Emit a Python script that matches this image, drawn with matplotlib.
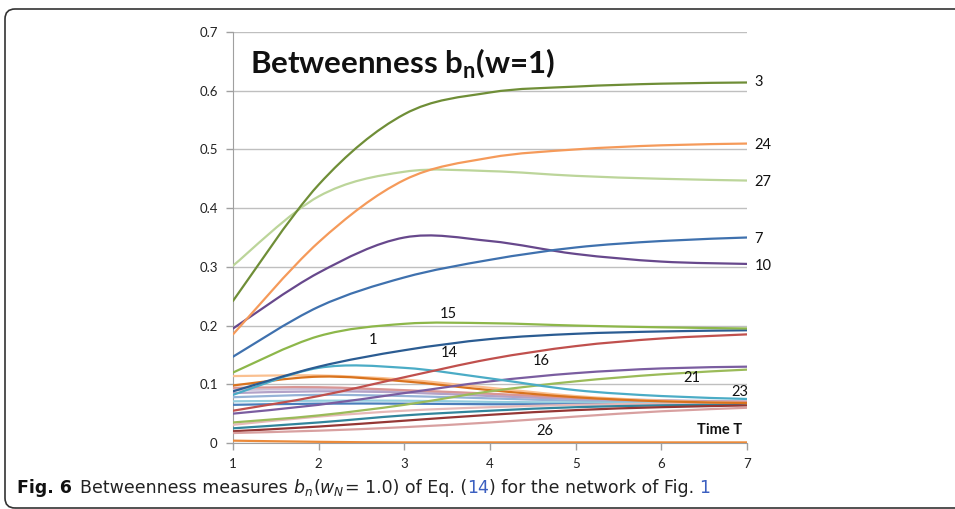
#!/usr/bin/env python3
"""Betweenness b_n(w=1) over time T, smoothed lines as in the Excel original."""
import matplotlib
matplotlib.use("Agg")
import matplotlib.pyplot as plt
from matplotlib.path import Path
from matplotlib.patches import PathPatch, FancyBboxPatch
from matplotlib.transforms import IdentityTransform

T = [1, 2, 3, 4, 5, 6, 7]

# labelled nodes
b3 = [0.242, 0.440, 0.560, 0.597, 0.607, 0.612, 0.614]
b24 = [0.185, 0.342, 0.448, 0.486, 0.500, 0.507, 0.510]
b27 = [0.302, 0.420, 0.462, 0.463, 0.455, 0.450, 0.447]
b7 = [0.147, 0.232, 0.282, 0.312, 0.333, 0.344, 0.350]
b10 = [0.195, 0.290, 0.350, 0.344, 0.322, 0.309, 0.305]
b15 = [0.120, 0.182, 0.203, 0.204, 0.200, 0.197, 0.195]
b1 = [0.088, 0.130, 0.158, 0.177, 0.186, 0.190, 0.192]
b14 = [0.055, 0.080, 0.112, 0.143, 0.165, 0.178, 0.185]
b16 = [0.050, 0.065, 0.085, 0.105, 0.119, 0.127, 0.130]
b21 = [0.035, 0.047, 0.065, 0.088, 0.105, 0.117, 0.125]
b23 = [0.082, 0.128, 0.128, 0.110, 0.090, 0.080, 0.075]
b26 = [0.004, 0.002, 0.001, 0.001, 0.001, 0.001, 0.001]

# unlabelled nodes, converging near 0.065
c_orange = [0.098, 0.113, 0.105, 0.090, 0.078, 0.071, 0.068]
c_peach = [0.114, 0.115, 0.108, 0.094, 0.080, 0.072, 0.068]
c_red = [0.094, 0.095, 0.090, 0.084, 0.077, 0.072, 0.070]
c_lavender = [0.085, 0.088, 0.086, 0.080, 0.075, 0.072, 0.070]
c_steel = [0.078, 0.082, 0.080, 0.076, 0.072, 0.070, 0.069]
c_lightblue = [0.071, 0.072, 0.072, 0.070, 0.069, 0.068, 0.068]
c_blue = [0.065, 0.067, 0.067, 0.066, 0.066, 0.066, 0.066]
c_lightpink = [0.031, 0.045, 0.055, 0.061, 0.065, 0.067, 0.068]
c_teal = [0.025, 0.035, 0.047, 0.055, 0.061, 0.064, 0.066]
c_darkred = [0.020, 0.028, 0.038, 0.048, 0.056, 0.061, 0.064]
c_pink = [0.017, 0.021, 0.027, 0.035, 0.045, 0.054, 0.060]
c_lilac = [0.090, 0.092, 0.089, 0.083, 0.077, 0.073, 0.071]

SERIES = [
    (c_lilac, "#CCC1DA"), (c_steel, "#95B3D7"), (c_lightblue, "#93CDDD"),
    (c_blue, "#4A7EBB"), (c_lavender, "#B3A2C7"), (c_red, "#D99694"),
    (c_lightpink, "#E6B9B8"), (c_teal, "#31859C"), (c_darkred, "#953735"),
    (c_pink, "#D8A0A0"), (c_peach, "#FAC090"), (c_orange, "#D9731E"),
    (b26, "#EB8A3A"), (b21, "#9BBB59"), (b16, "#7A5DA0"), (b23, "#4BACC6"),
    (b14, "#C0504D"), (b1, "#2B5C92"), (b15, "#8DB74A"), (b10, "#67488C"),
    (b7, "#3F71AE"), (b27, "#BCD59A"), (b24, "#F59A5A"), (b3, "#6F8E37"),
]

LABELS = [
    ("3", 7.09, 0.614), ("24", 7.09, 0.508), ("27", 7.09, 0.445),
    ("7", 7.09, 0.348), ("10", 7.09, 0.302), ("15", 3.51, 0.220),
    ("1", 2.63, 0.175), ("14", 3.52, 0.153), ("16", 4.60, 0.140),
    ("21", 6.36, 0.110), ("23", 6.92, 0.087), ("26", 4.64, 0.020),
]


def smooth_path(xs, ys):
    """Bezier path through the points, Excel 'smoothed line' style."""
    pts = list(zip(xs, ys))
    verts = [pts[0]]
    codes = [Path.MOVETO]
    n = len(pts)
    for i in range(n - 1):
        p0 = pts[max(i - 1, 0)]
        p1 = pts[i]
        p2 = pts[i + 1]
        p3 = pts[min(i + 2, n - 1)]
        c1 = (p1[0] + (p2[0] - p0[0]) / 6, p1[1] + (p2[1] - p0[1]) / 6)
        c2 = (p2[0] - (p3[0] - p1[0]) / 6, p2[1] - (p3[1] - p1[1]) / 6)
        verts += [c1, c2, p2]
        codes += [Path.CURVE4] * 3
    return Path(verts, codes)


plt.rcParams["font.family"] = ["Lato", "DejaVu Sans"]

fig = plt.figure(figsize=(9.55, 5.09), dpi=100)
ax = fig.add_axes([233 / 955, 1 - 443 / 509, 514 / 955, 411 / 509])

for ys, col in SERIES:
    ax.add_patch(PathPatch(smooth_path(T, ys), facecolor="none",
                           edgecolor=col, lw=1.6, capstyle="round",
                           zorder=3))

ax.set_xlim(1, 7)
ax.set_ylim(0, 0.7)
ax.set_xticks(T)
ax.set_yticks([0, 0.1, 0.2, 0.3, 0.4, 0.5, 0.6, 0.7])
ax.set_yticklabels(["0", "0.1", "0.2", "0.3", "0.4", "0.5", "0.6", "0.7"])
ax.grid(axis="y", color="#BFBFBF", lw=1.0)
ax.set_axisbelow(True)
ax.spines[["top", "right"]].set_visible(False)
for s in ("left", "bottom"):
    ax.spines[s].set_color("#A0A0A0")
ax.tick_params(colors="#A0A0A0", labelcolor="#222222", labelsize=9.5,
               length=5, width=1.0)
ax.tick_params(axis="y", pad=6)
ax.tick_params(axis="x", pad=6)

for txt, x, y in LABELS:
    ha = "left" if x > 7 else "center"
    ax.text(x, y, txt, fontsize=10.5, ha=ha, va="center", color="#111111",
            clip_on=False)
ax.text(6.94, 0.022, "Time T", fontsize=10.5, fontweight="bold",
        ha="right", va="center", color="#111111")
ax.text(1.2, 0.646, r"Betweenness b$_\mathregular{n}$(w=1)", fontsize=22.5,
        fontweight="bold", ha="left", va="center", color="#111111")

# caption pieces, placed one after another
cap_font = ["DejaVu Sans"]
pieces = [
    ("Fig. 6", "bold", "#111111", 8),
    ("Betweenness measures ", "normal", "#222222", 0),
    (r"$b_n$", "normal", "#222222", 0),
    (r"($w_N$", "normal", "#222222", 0),
    ("= 1.0) of Eq. (", "normal", "#222222", 0),
    ("14", "normal", "#3B5FC0", 0),
    (") for the network of Fig. ", "normal", "#222222", 0),
    ("1", "normal", "#3B5FC0", 0),
]
fig.canvas.draw()
renderer = fig.canvas.get_renderer()
xpix = 17
for txt, weight, col, gap in pieces:
    t = fig.text(xpix / 955, 1 - 493 / 509, txt, fontsize=12.5,
                 fontweight=weight, color=col, family=cap_font,
                 ha="left", va="baseline")
    bb = t.get_window_extent(renderer)
    xpix += bb.width + gap

# rounded frame around the figure
frame = FancyBboxPatch((5, 1), 1000, 499, boxstyle="round,pad=0,rounding_size=10",
                       transform=IdentityTransform(), facecolor="none",
                       edgecolor="#333333", lw=1.2)
fig.patches.append(frame)

fig.savefig("out.png", dpi=100)
